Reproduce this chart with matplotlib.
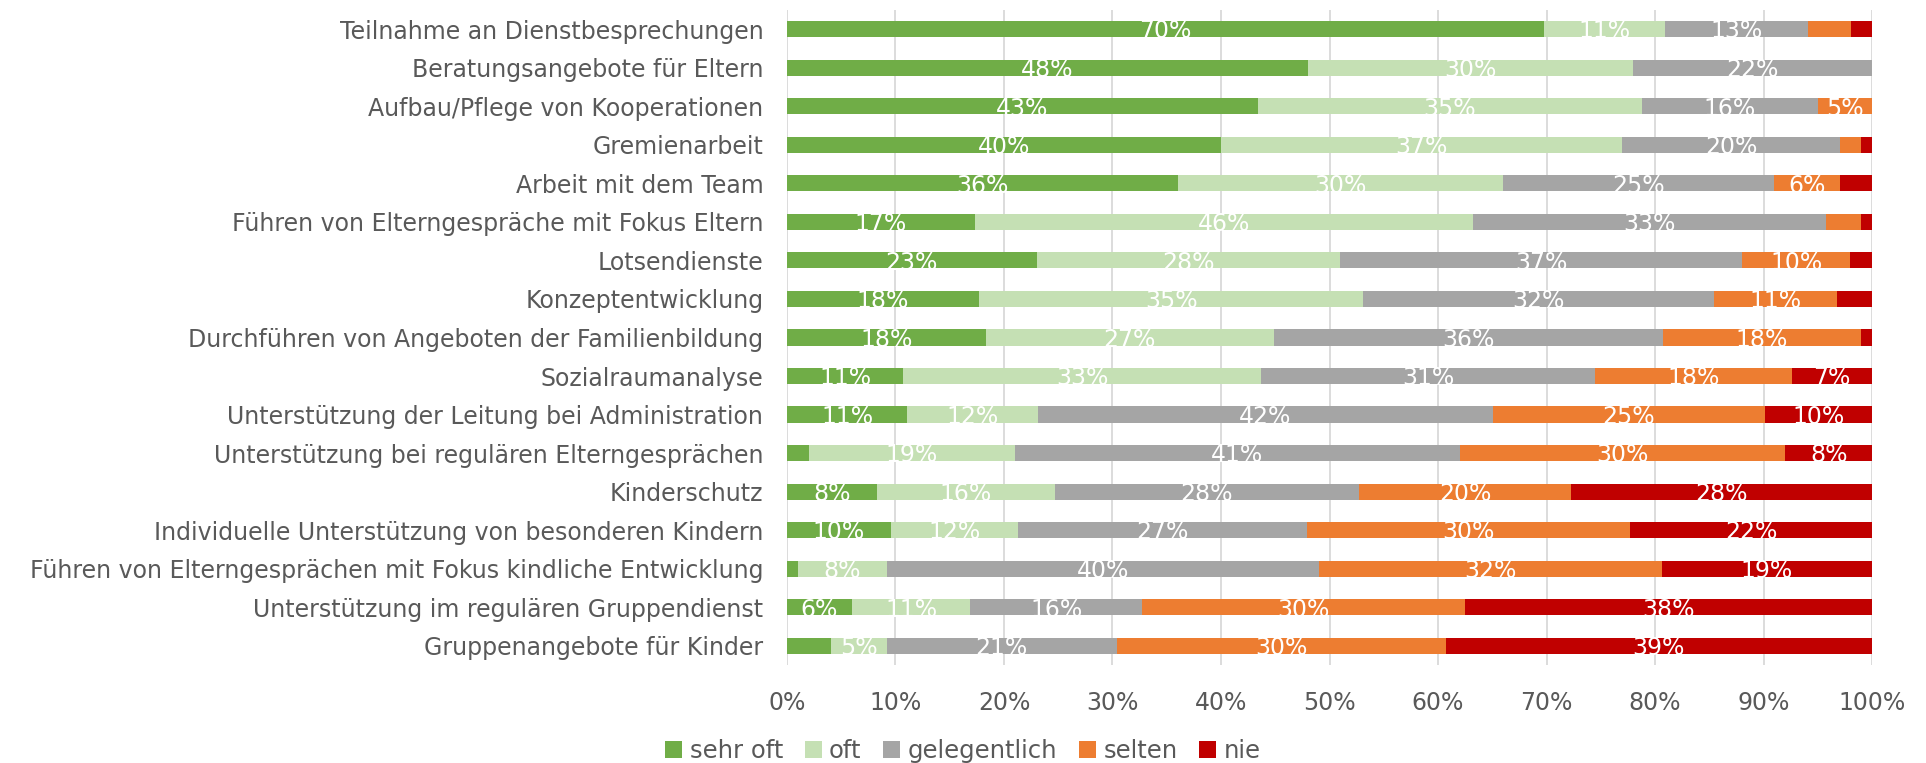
# stacked bar chart – Häufigkeit der Tätigkeiten
import matplotlib
matplotlib.use("Agg")
import matplotlib.pyplot as plt
import numpy as np

# ── data (percent) ──────────────────────────────────────────────────────
categories = [
    "Teilnahme an Dienstbesprechungen",
    "Beratungsangebote für Eltern",
    "Aufbau/Pflege von Kooperationen",
    "Gremienarbeit",
    "Arbeit mit dem Team",
    "Führen von Elterngespräche mit Fokus Eltern",
    "Lotsendienste",
    "Konzeptentwicklung",
    "Durchführen von Angeboten der Familienbildung",
    "Sozialraumanalyse",
    "Unterstützung der Leitung bei Administration",
    "Unterstützung bei regulären Elterngesprächen",
    "Kinderschutz",
    "Individuelle Unterstützung von besonderen Kindern",
    "Führen von Elterngesprächen mit Fokus kindliche Entwicklung",
    "Unterstützung im regulären Gruppendienst",
    "Gruppenangebote für Kinder",
]
series_names = ["sehr oft", "oft", "gelegentlich", "selten", "nie"]

sehr_oft     = [69.8, 48.0, 43.4, 40.0, 36.0, 17.3, 23.0, 17.7, 18.3, 10.7, 11.1, 2.0, 8.3, 9.6, 1.0, 6.0, 4.1]
oft          = [11.1, 30.0, 35.4, 37.0, 30.0, 45.9, 28.0, 35.4, 26.6, 33.0, 12.0, 19.0, 16.4, 11.7, 8.2, 10.9, 5.1]
gelegentlich = [13.2, 22.0, 16.2, 20.0, 25.0, 32.6, 37.0, 32.3, 35.8, 30.8, 42.0, 41.0, 28.0, 26.6, 39.8, 15.8, 21.2]
selten       = [4.0, 0.0, 5.0, 2.0, 6.0, 3.2, 10.0, 11.4, 18.3, 18.1, 25.0, 30.0, 19.6, 29.8, 31.6, 29.8, 30.3]
nie          = [1.9, 0.0, 0.0, 1.0, 3.0, 1.0, 2.0, 3.2, 1.0, 7.4, 10.0, 8.0, 27.7, 22.3, 19.4, 37.5, 39.3]

colors = ["#70AD47", "#C5E0B4", "#A5A5A5", "#ED7D31", "#C00000"]
TEXT = "#595959"
# ─────────────────────────────────────────────────────────────────────────

plt.rcParams["font.family"] = ["DejaVu Sans"]

fig = plt.figure(figsize=(19.26, 7.63), dpi=100)
ax = fig.add_axes([0.4086, 0.1284, 0.5634, 0.8586])

y = np.arange(len(categories))
left = np.zeros(len(categories))
for name, vals, col in zip(series_names,
                           [sehr_oft, oft, gelegentlich, selten, nie], colors):
    vals = np.array(vals) / 100.0
    bars = ax.barh(y, vals, left=left, height=0.42, color=col, label=name, zorder=3)
    for b, v in zip(bars, vals):
        if v * 100 >= 4.5:
            ax.text(b.get_x() + b.get_width() / 2, b.get_y() + b.get_height() / 2 + 0.06,
                    f"{v * 100:.0f}%", ha="center", va="center",
                    color="white", fontsize=17, zorder=4)
    left += vals

ax.set_xlim(0, 1)
ax.set_ylim(len(categories) - 0.5, -0.5)
ax.set_yticks(y)
ax.set_yticklabels(categories)
ax.set_xticks(np.arange(0, 1.01, 0.1))
ax.set_xticklabels([f"{int(round(t * 100))}%" for t in np.arange(0, 1.01, 0.1)])
ax.tick_params(axis="y", length=0, pad=17, labelsize=17, labelcolor=TEXT)
ax.tick_params(axis="x", length=0, pad=19, labelsize=17, labelcolor=TEXT)
ax.grid(axis="x", color="#D9D9D9", linewidth=1.3, zorder=0)
for s in ax.spines.values():
    s.set_visible(False)

fig.legend(loc="center", bbox_to_anchor=(0.5, 0.016), ncol=5, frameon=False,
           fontsize=17.5, labelcolor=TEXT, handlelength=0.7, handleheight=0.7,
           handletextpad=0.3, columnspacing=0.9)

fig.savefig("out.png", dpi=100, facecolor="white")
